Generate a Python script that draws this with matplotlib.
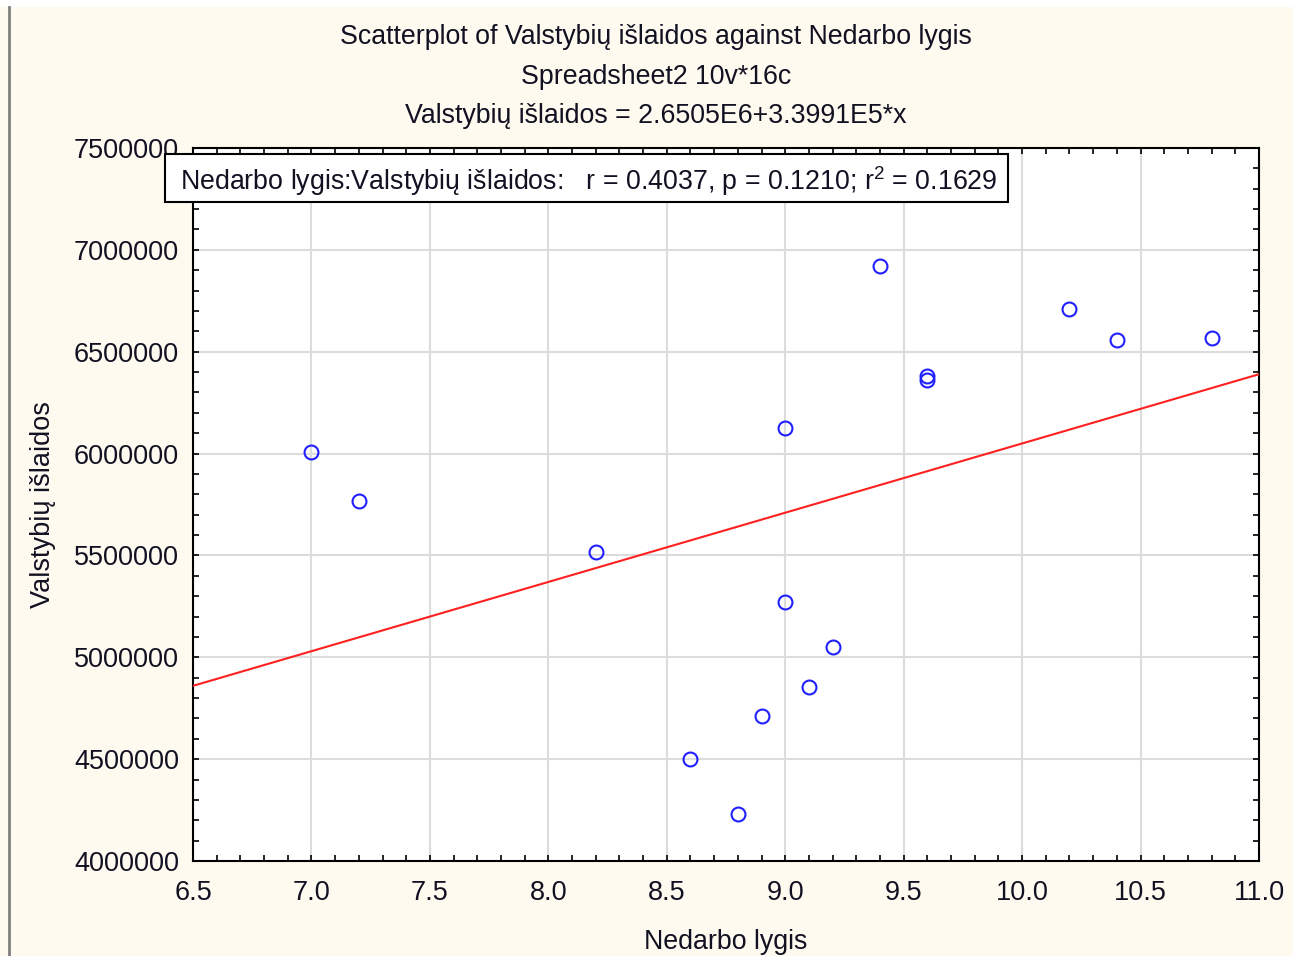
import matplotlib.pyplot as plt
from matplotlib.patches import Rectangle
from matplotlib.ticker import MultipleLocator

# unemployment rate vs. state expenditure, 16 cases
nedarbo_lygis = [7.0, 7.2, 8.2, 8.6, 8.8, 8.9, 9.0, 9.0,
                 9.1, 9.2, 9.4, 9.6, 9.6, 10.2, 10.4, 10.8]
valstybiu_islaidos = [6010000, 5765000, 5517000, 4500000, 4230000, 4712000, 5272000, 6126000,
                      4855000, 5050000, 6920000, 6380000, 6362000, 6710000, 6558000, 6567000]

# fitted line as reported
intercept = 2.6505e6
slope = 3.3991e5
r, p, r2 = 0.4037, 0.1210, 0.1629

title_lines = ["Scatterplot of Valstybių išlaidos against Nedarbo lygis",
               "Spreadsheet2 10v*16c",
               "Valstybių išlaidos = 2.6505E6+3.3991E5*x"]

plt.rcParams['font.family'] = ['Liberation Sans', 'DejaVu Sans']
plt.rcParams['mathtext.default'] = 'regular'

bg = '#FFFAF0'
txt = '#111122'
fig = plt.figure(figsize=(13, 9.56), dpi=100, facecolor=bg)
W, H = 1300, 956

ax = fig.add_axes([193 / W, 1 - 861 / H, (1259 - 193) / W, (861 - 148) / H])
ax.set_facecolor('white')

xlim = (6.5, 11.0)
ax.set_xlim(*xlim)
ax.set_ylim(4000000, 7500000)

ax.xaxis.set_major_locator(MultipleLocator(0.5))
ax.xaxis.set_minor_locator(MultipleLocator(0.1))
ax.yaxis.set_major_locator(MultipleLocator(500000))
ax.yaxis.set_minor_locator(MultipleLocator(100000))
ax.xaxis.set_major_formatter(lambda v, pos: f"{v:.1f}")
ax.yaxis.set_major_formatter(lambda v, pos: f"{v:.0f}")

ax.tick_params(which='both', direction='in', top=True, right=True,
               length=4, width=1.2, colors='black')
ax.tick_params(axis='both', labelsize=19.5, labelcolor=txt)
ax.tick_params(axis='y', pad=10)
ax.tick_params(axis='x', pad=14)

ax.grid(True, which='major', color='#DCDCDC', linewidth=1.5)
ax.set_axisbelow(True)
for s in ax.spines.values():
    s.set_linewidth(1.5)
    s.set_color('black')

ax.plot(list(xlim), [intercept + slope * x for x in xlim],
        color='#FF2020', linewidth=1.5, zorder=3)
ax.plot(nedarbo_lygis, valstybiu_islaidos, linestyle='none', marker='o',
        markersize=10, markerfacecolor='none', markeredgecolor='#2020FF',
        markeredgewidth=1.5, zorder=4)

ax.set_xlabel("Nedarbo lygis", fontsize=19.3, color=txt, labelpad=16)
ax.set_ylabel("Valstybių išlaidos", fontsize=19.5, color=txt, labelpad=13)

for i, line in enumerate(title_lines):
    fig.text(656 / W, 1 - (37 + 39.5 * i) / H, line, ha='center', va='center',
             fontsize=19.3, color=txt)

# statistics box
fig.patches.append(Rectangle((165 / W, 1 - 202 / H), (1008 - 165) / W, 48 / H,
                             transform=fig.transFigure, facecolor='white',
                             edgecolor='black', linewidth=1.5, zorder=5))
fig.text(180 / W, 1 - 181 / H,
         f"Nedarbo lygis:Valstybių išlaidos:   r = {r:.4f}, p = {p:.4f}; r$^{{2}}$ = {r2:.4f}",
         ha='left', va='center', fontsize=19.3, color=txt, zorder=6)

# frame lines at the window edge
fig.patches.append(Rectangle((0, 1 - 7 / H), 1, 7 / H, transform=fig.transFigure,
                             facecolor='white', edgecolor='none', zorder=0))
fig.patches.append(Rectangle((1293 / W, 0), 7 / W, 1, transform=fig.transFigure,
                             facecolor='white', edgecolor='none', zorder=0))
fig.add_artist(plt.Line2D([9 / W, 9 / W], [0, 1 - 7 / H], color='#808080', linewidth=2))

fig.savefig('out.png', dpi=100, facecolor=bg)
